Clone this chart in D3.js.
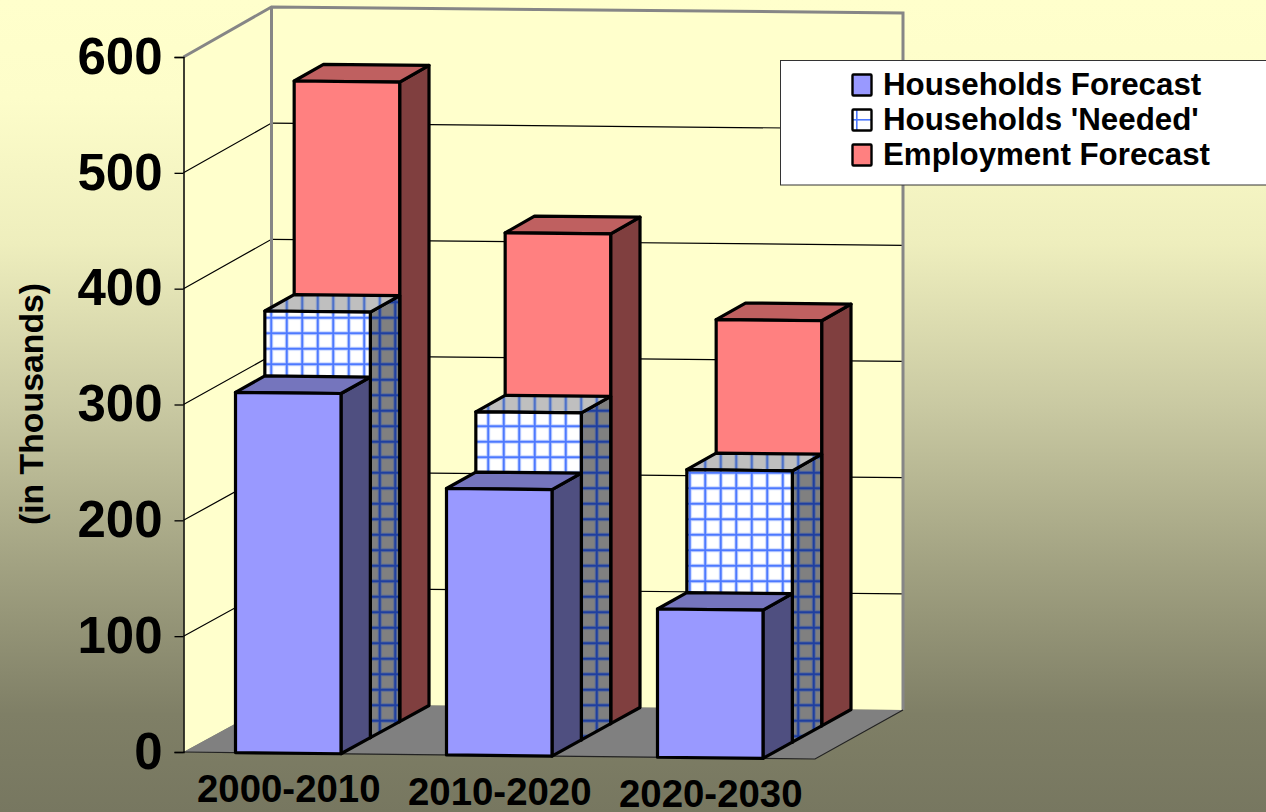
<!DOCTYPE html>
<html><head><meta charset="utf-8">
<script src="https://cdn.jsdelivr.net/npm/d3@7"></script>
<style>html,body{margin:0;padding:0;overflow:hidden;background:#ffffcc}svg{display:block}text{font-family:"Liberation Sans",Arial,sans-serif;font-weight:bold;fill:#000}</style>
</head><body><script>
const categories = ["2000-2010","2010-2020","2020-2030"];
const seriesNames = ["Households Forecast","Households 'Needed'","Employment Forecast"];
const householdsForecast = [311,230,128];
const householdsNeeded = [367,282,234];
const employmentForecast = [551,422,349];
const seriesValues = [householdsForecast,householdsNeeded,employmentForecast];
const valueTicks = [0,100,200,300,400,500,600];
const W=1266,H=812;
const frontLeft=183.5,frontRight=815,baseY=752,tiltY=7,depthX=88,depthY=48,depthTilt=1;
const svg=d3.select("body").append("svg").attr("width",W).attr("height",H);
const defs=svg.append("defs");
const grad=defs.append("linearGradient").attr("id","bg").attr("x1",0).attr("y1",0).attr("x2",0).attr("y2",1);
[[0,"#ffffcc"],[0.12,"#fdfdca"],[0.3,"#eeeebd"],[0.5,"#c9c9a2"],[0.7,"#a1a181"],[0.88,"#7f7f66"],[1,"#777760"]]
 .forEach(s=>grad.append("stop").attr("offset",s[0]).attr("stop-color",s[1]));
function hatch(id,bg,halo,line,size,w,horizontal=true){
  const p=defs.append("pattern").attr("id",id).attr("patternUnits","userSpaceOnUse").attr("width",size).attr("height",size);
  p.append("rect").attr("width",size).attr("height",size).attr("fill",bg);
  const c=size/2;
  p.append("rect").attr("x",c-w/2-1).attr("width",w+2).attr("height",size).attr("fill",halo);
  if(horizontal)p.append("rect").attr("y",c-w/2-1).attr("width",size).attr("height",w+2).attr("fill",halo);
  p.append("rect").attr("x",c-w/2).attr("width",w).attr("height",size).attr("fill",line);
  if(horizontal)p.append("rect").attr("y",c-w/2).attr("width",size).attr("height",w).attr("fill",line);
}
hatch("hFront","#ffffff","#c8d6ff","#4d79ff",15.5,2);
hatch("hSide","#808080","#5a6a96","#1f3f9f",15.5,2);
hatch("hTop","#bfbfbf","#9aa8c8","#4d70c8",15.5,2,false);
svg.append("rect").attr("width",W).attr("height",H).attr("fill","url(#bg)");

const band=d3.scaleBand().domain(categories).range([frontLeft+2,frontRight-2]).paddingInner(0.5).paddingOuter(0.237);
const depth=d3.scaleBand().domain(seriesNames).range([0,1]);
const val=d3.scaleLinear().domain([0,600]).range([0,695]);
function P(u,d,v){const t=(u-frontLeft)/(frontRight-frontLeft);
  return [u+d*depthX, baseY+t*tiltY-d*(depthY+t*depthTilt)-val(v)*(1+d*0.003)];}
const line=pts=>"M"+pts.map(p=>p.join(",")).join("L")+"Z";
const L=frontLeft,R=frontRight;
// walls
const walls=svg.append("g");
walls.append("path").attr("d",line([P(L,1,0),P(R,1,0),P(R,1,600),P(L,1,600)])).attr("fill","#ffffcc");
walls.append("path").attr("d",line([P(L,0,0),P(L,1,0),P(L,1,600),P(L,0,600)])).attr("fill","#ffffcc");
walls.append("path").attr("d",line([P(L,0,0),P(R,0,0),P(R,1,0),P(L,1,0)])).attr("fill","#808080");
// gridlines
valueTicks.filter(v=>v>0&&v<600).forEach(v=>{
  walls.append("path").attr("fill","none").attr("stroke","#000").attr("stroke-width",1.2)
    .attr("d","M"+[P(L,0,v),P(L,1,v),P(R,1,v)].map(p=>p.join(",")).join("L"));
});
// outer frame
walls.append("path").attr("fill","none").attr("stroke","#868686").attr("stroke-width",3)
  .attr("d","M"+[P(L,0,600),P(L,1,600),P(R,1,600),P(R,1,0)].map(p=>p.join(",")).join("L"));
walls.append("path").attr("fill","none").attr("stroke","#868686").attr("stroke-width",3)
  .attr("d","M"+[P(L,1,600),P(L,1,0)].map(p=>p.join(",")).join("L"));
walls.append("path").attr("fill","none").attr("stroke","#222").attr("stroke-width",1.2)
  .attr("d","M"+[P(L,0,0),P(R,0,0),P(R,1,0)].map(p=>p.join(",")).join("L"));

// value axis
const axisScale=d3.scaleLinear().domain([0,600]).range([baseY,baseY-val(600)]);
const ax=svg.append("g").attr("transform",`translate(${frontLeft},0)`)
  .call(d3.axisLeft(axisScale).tickValues(valueTicks).tickSize(9).tickPadding(12).tickFormat(d3.format("d")));
ax.select(".domain").attr("stroke","#000").attr("stroke-width",1.5);
ax.selectAll(".tick line").attr("stroke","#000").attr("stroke-width",1.3);
ax.selectAll(".tick text").attr("font-size",51).style("font-family",'"Liberation Sans",Arial,sans-serif');

// bars, back to front
const styles=[
 {front:"#9999ff",side:"#4f4f80",top:"#7575bd"},
 {front:"url(#hFront)",side:"url(#hSide)",top:"url(#hTop)"},
 {front:"#ff8080",side:"#803f3f",top:"#bf6060"}];
const step=depth.step();
d3.range(2,-1,-1).forEach(si=>{
  const d0=depth(seriesNames[si]),d1=d0+step,g=svg.append("g"),st=styles[si];
  const data=categories.map((c,i)=>({c,v:seriesValues[si][i]}));
  data.forEach(o=>{
    const u0=band(o.c),u1=u0+band.bandwidth();
    const faces=[
      {d:[P(u1,d0,0),P(u1,d1,0),P(u1,d1,o.v),P(u1,d0,o.v)],f:st.side},
      {d:[P(u0,d0,o.v),P(u1,d0,o.v),P(u1,d1,o.v),P(u0,d1,o.v)],f:st.top},
      {d:[P(u0,d0,0),P(u1,d0,0),P(u1,d0,o.v),P(u0,d0,o.v)],f:st.front}];
    g.selectAll(null).data(faces).enter().append("path")
      .attr("d",f=>line(f.d)).attr("fill",f=>f.f).attr("stroke","#000").attr("stroke-width",3.2).attr("stroke-linejoin","round");
  });
});

// category labels
const cat=svg.append("g");
categories.forEach(c=>{
  const u=band(c)+band.bandwidth()/2, p=P(u,0,0);
  cat.append("text").attr("x",p[0]+0.5).attr("y",p[1]+49).attr("text-anchor","middle").attr("font-size",38.4).text(c);
});
// axis title
svg.append("text").attr("transform","translate(43,404) rotate(-90)").attr("text-anchor","middle").attr("font-size",33.8).text("(in Thousands)");

// legend
const lg=svg.append("g");
lg.append("rect").attr("x",780.5).attr("y",60.5).attr("width",500).attr("height",124.5).attr("fill","#fff").attr("stroke","#333").attr("stroke-width",1);
const legendFill=["#9999ff","url(#lgHatch)","#ff8080"];
const lp=defs.append("pattern").attr("id","lgHatch").attr("patternUnits","userSpaceOnUse").attr("width",20).attr("height",22).attr("x",852).attr("y",109);
lp.append("rect").attr("width",20).attr("height",22).attr("fill","#fff");
lp.append("rect").attr("x",4).attr("width",1.6).attr("height",22).attr("fill","#4d79ff");
lp.append("rect").attr("y",10).attr("width",20).attr("height",1.6).attr("fill","#4d79ff");
const rowY=d3.scalePoint().domain(seriesNames).range([85,155]);
seriesNames.forEach((n,i)=>{
  lg.append("rect").attr("x",852.5).attr("y",rowY(n)-10.5).attr("width",19).attr("height",21).attr("fill",legendFill[i]).attr("stroke","#000").attr("stroke-width",2.4).attr("rx",1);
  lg.append("text").attr("x",883).attr("y",rowY(n)+10).attr("font-size",31.3).text(n);
});
</script></body></html>
